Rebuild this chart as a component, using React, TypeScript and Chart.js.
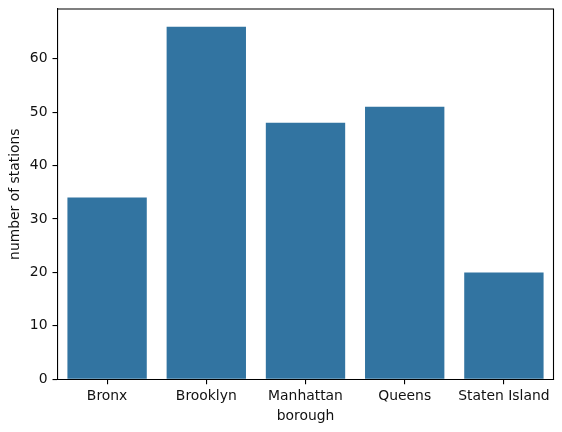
import React, { useEffect, useRef } from "react";
import { Chart, registerables } from "chart.js";

Chart.register(...registerables);

const boroughs = ["Bronx", "Brooklyn", "Manhattan", "Queens", "Staten Island"];
const stationCounts = [34, 66, 48, 51, 20];
const yTicks = [0, 10, 20, 30, 40, 50, 60];

const FONT = "'DejaVu Sans', sans-serif";
const FS = 13.9;
const TEXT = "#111";

const framePlugin = {
  id: "frame",
  afterDraw(chart: any) {
    const { ctx, chartArea } = chart;
    ctx.save();
    ctx.strokeStyle = "#000";
    ctx.lineWidth = 1.1;
    ctx.beginPath();
    ctx.moveTo(chartArea.left, chartArea.top);
    ctx.lineTo(chartArea.right, chartArea.top);
    ctx.lineTo(chartArea.right, chartArea.bottom);
    ctx.stroke();
    ctx.restore();
  },
};

export default function App() {
  const ref = useRef<HTMLCanvasElement>(null);
  useEffect(() => {
    document.body.style.margin = "0";
    const chart = new Chart(ref.current!, {
      type: "bar",
      data: {
        labels: boroughs,
        datasets: [
          {
            data: stationCounts,
            backgroundColor: "#3274a1",
            barPercentage: 0.8,
            categoryPercentage: 1,
          },
        ],
      },
      options: {
        animation: false,
        responsive: false,
        maintainAspectRatio: false,
        layout: { padding: { left: 0, right: 8.5, top: 9, bottom: 0 } },
        plugins: { legend: { display: false }, tooltip: { enabled: false } },
        scales: {
          x: {
            offset: true,
            grid: {
              offset: false,
              drawOnChartArea: false,
              drawTicks: true,
              tickLength: 5,
              color: "#000",
              lineWidth: 1.1,
            },
            border: { display: true, color: "#000", width: 1.1 },
            ticks: {
              color: TEXT,
              font: { family: FONT, size: FS },
              padding: 4,
              maxRotation: 0,
              autoSkip: false,
            },
            title: {
              display: true,
              text: "borough",
              color: TEXT,
              font: { family: FONT, size: FS },
              padding: { top: 0, bottom: 7 },
            },
            afterFit(scale: any) {
              scale.height = 432 - 379.3;
              scale.paddingLeft = 0;
              scale.paddingRight = 0;
            },
          },
          y: {
            min: 0,
            max: 69.3,
            afterBuildTicks(scale: any) {
              scale.ticks = yTicks.map((v) => ({ value: v }));
            },
            grid: {
              drawOnChartArea: false,
              drawTicks: true,
              tickLength: 5,
              color: "#000",
              lineWidth: 1.1,
            },
            border: { display: true, color: "#000", width: 1.1 },
            ticks: {
              color: TEXT,
              font: { family: FONT, size: FS },
              padding: 5,
            },
            title: {
              display: true,
              text: "number of stations",
              color: TEXT,
              font: { family: FONT, size: FS },
              padding: { top: 7, bottom: 0 },
            },
            afterFit(scale: any) {
              scale.width = 57.5;
              scale.paddingTop = 0;
              scale.paddingBottom = 0;
            },
          },
        },
      },
      plugins: [framePlugin],
    });
    return () => chart.destroy();
  }, []);
  return (
    <div style={{ width: 562, height: 432, background: "#fff" }}>
      <canvas ref={ref} width={562} height={432} style={{ display: "block" }} />
    </div>
  );
}
